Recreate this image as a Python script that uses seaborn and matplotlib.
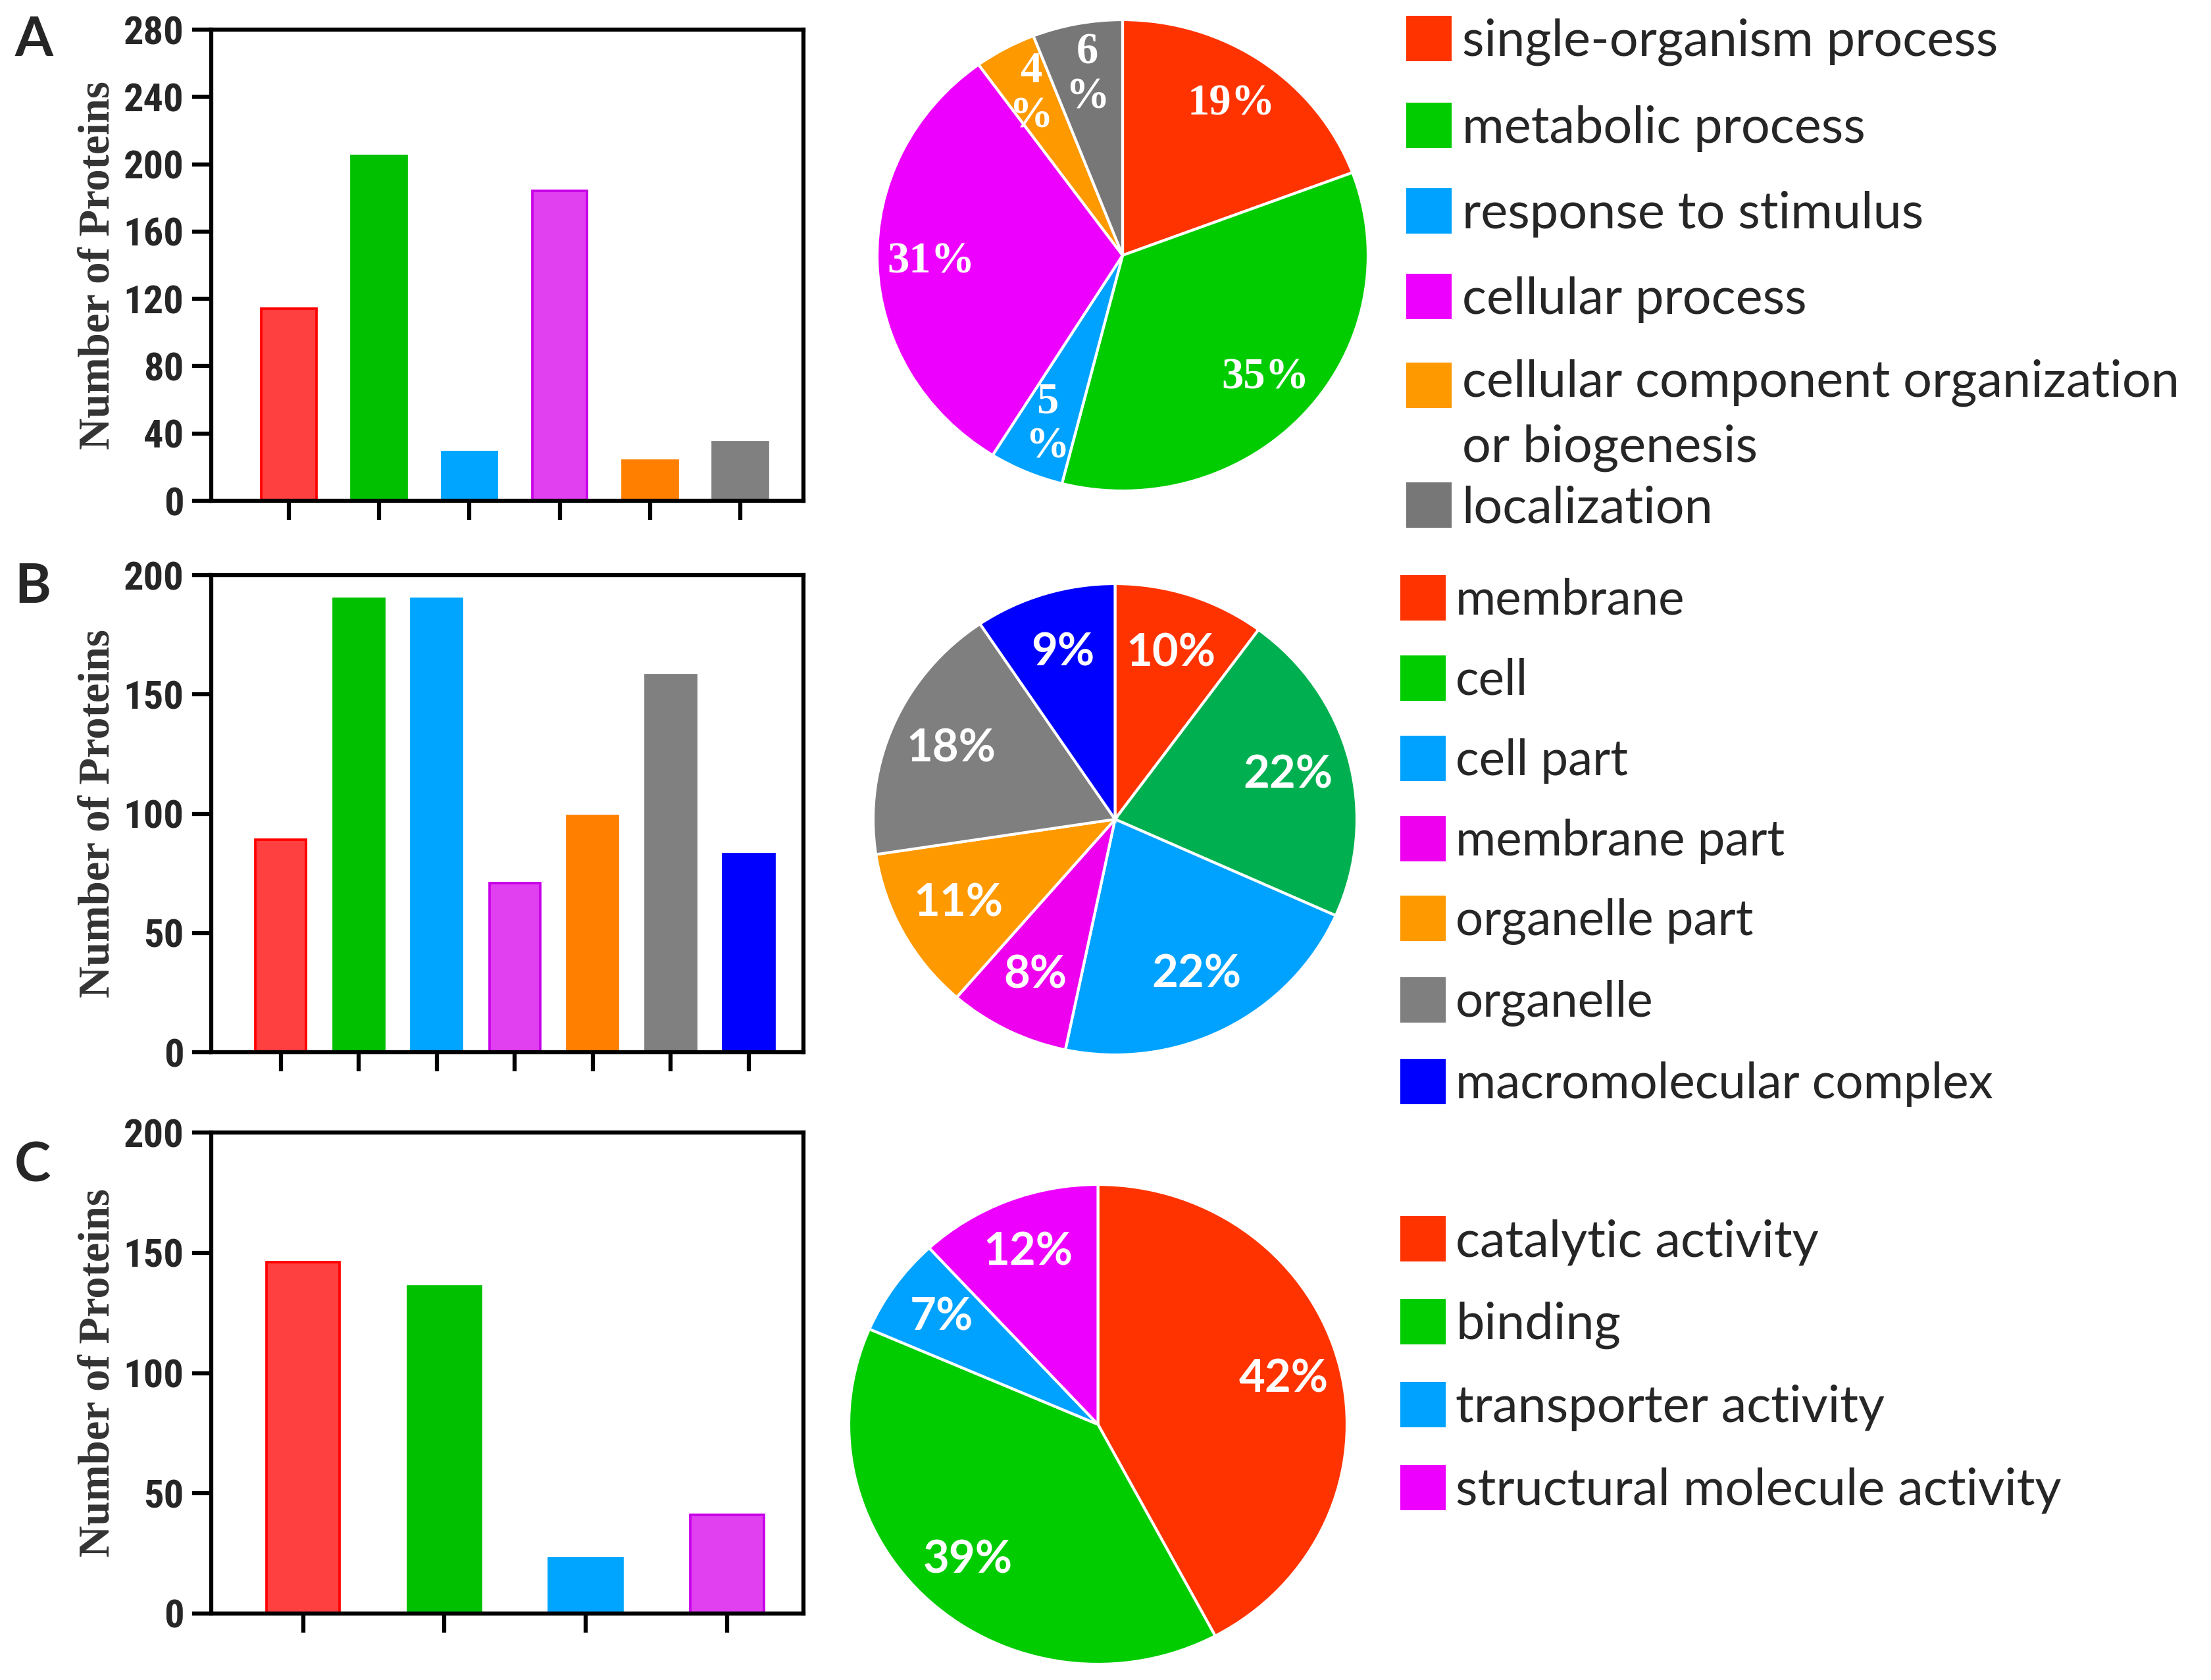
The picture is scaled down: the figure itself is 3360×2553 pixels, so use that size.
import matplotlib
matplotlib.use('Agg')
import matplotlib.pyplot as plt
import seaborn as sns
from matplotlib.patches import Patch, Rectangle
from matplotlib.legend_handler import HandlerPatch

# GO categories and protein counts
bp_terms = ['single-organism process', 'metabolic process', 'response to stimulus',
            'cellular process', 'cellular component organization\nor biogenesis', 'localization']
bp_counts = [114, 205, 29, 184, 24, 35]

cc_terms = ['membrane', 'cell', 'cell part', 'membrane part', 'organelle part',
            'organelle', 'macromolecular complex']
cc_counts = [89, 190, 190, 71, 99, 158, 83]

mf_terms = ['catalytic activity', 'binding', 'transporter activity',
            'structural molecule activity']
mf_counts = [146, 136, 23, 41]

bar_fill = ['#FF4040', '#00C000', '#00A5FF', '#E040F0', '#FF8000', '#808080', '#0000FF']
bar_edge = ['#FF0000', '#00C000', '#00A5FF', '#C800E8', '#FF8000', '#808080', '#0000FF']
pie_bp = ['#FF3300', '#00CC00', '#00A2FF', '#EE00FF', '#FF9900', '#777777']
pie_cc = ['#FF3300', '#00B050', '#00A2FF', '#EE00EE', '#FF9900', '#7F7F7F', '#0000FF']
leg_cc = ['#FF3300', '#00CC00', '#00A2FF', '#EE00EE', '#FF9900', '#7F7F7F', '#0000FF']
pie_mf = ['#FF3300', '#00CC00', '#00A2FF', '#EE00FF']

sns.set_style('ticks')
plt.rcParams['font.family'] = ['Lato', 'DejaVu Sans']

W, H = 3360, 2553
fig = plt.figure(figsize=(W / 300, H / 300), dpi=300)


def px(l, t, r, b):
    return [l / W, 1 - b / H, (r - l) / W, (b - t) / H]


tick_family = ['Roboto Condensed', 'Liberation Sans']


def bar_panel(rect, terms, counts, ymax, ystep, xlim, width):
    ax = fig.add_axes(px(*rect))
    n = len(terms)
    sns.barplot(x=list(range(n)), y=counts, hue=list(range(n)), palette=bar_fill[:n],
                saturation=1, width=width, legend=False, ax=ax)
    for p, ec in zip(ax.patches, bar_edge[:n]):
        p.set_edgecolor(ec)
        p.set_linewidth(0.9)
    ax.set_xlim(*xlim)
    ax.set_ylim(0, ymax)
    ax.set_yticks(range(0, ymax + 1, ystep))
    ax.set_xticks(range(n))
    ax.set_xticklabels([])
    ax.set_xlabel('')
    for s in ax.spines.values():
        s.set_linewidth(1.5)
        s.set_color('black')
    ax.tick_params(axis='both', direction='out', length=7, width=1.5, color='black')
    ax.tick_params(axis='y', pad=3)
    for lab in ax.get_yticklabels():
        lab.set_fontfamily(tick_family)
        lab.set_fontweight('bold')
        lab.set_fontsize(14.5)
    ax.set_ylabel('Number of Proteins', family='Liberation Serif', weight='bold',
                  size=16, color='#333333')
    ax.yaxis.set_label_coords(-0.157, 0.5)
    return ax


def pie_panel(rect, counts, colors, pctdist, split_below, serif):
    ax = fig.add_axes(px(*rect))

    def fmt(p):
        return f'{p:.0f}\n%' if p < split_below else f'{p:.0f}%'

    wedges, _, autotexts = ax.pie(counts, colors=colors, startangle=90, counterclock=False,
                                  autopct=fmt, pctdistance=pctdist,
                                  wedgeprops=dict(edgecolor='white', linewidth=1.0))
    for t in autotexts:
        t.set_color('white')
        t.set_fontweight('bold')
        if serif:
            t.set_fontfamily('Liberation Serif')
            t.set_fontsize(16)
            t.set_linespacing(1.15)
        else:
            t.set_fontsize(16.5)
    ax.set_aspect('auto')
    ax.set_xlim(-1, 1)
    ax.set_ylim(-1, 1)
    ax.axis('off')
    return ax


def legend_panel(anchor, terms, colors, size, pitch, shift_first_line=None):
    # sizes in pixels of the reference: 69 px squares, row pitch in px
    f = size * 300 / 72
    hl = 69 / f
    hh = (69 / f - 0.245) / 0.65
    ls = pitch / f - 0.98
    handles = [Patch(facecolor=c, edgecolor='none') for c in colors]
    hmap = {}
    if shift_first_line is not None:
        idx, shift = shift_first_line

        def up(legend, orig_handle, xdescent, ydescent, width, height, fontsize):
            return Rectangle((-xdescent, -ydescent + shift), width, height)
        hmap[handles[idx]] = HandlerPatch(patch_func=up)
    leg = fig.legend(handles, terms, loc='upper left',
                     bbox_to_anchor=(anchor[0] / W, 1 - anchor[1] / H),
                     bbox_transform=fig.transFigure, frameon=False,
                     fontsize=size, handlelength=hl, handleheight=hh,
                     handletextpad=0.2, labelspacing=ls, borderpad=0,
                     borderaxespad=0, handler_map=hmap)
    return leg


# A: biological process
bar_panel((321, 45, 1221, 761), bp_terms, bp_counts, 280, 40, (-0.86, 5.70), 0.61)
pie_panel((1333, 30, 2079, 746), bp_counts, pie_bp, 0.78, 7, True)
leg_a = legend_panel((2137, 24), bp_terms[:5], pie_bp[:5], 18.6, 131,
                     shift_first_line=(4, 11.5))
leg_a.get_texts()[4].set_linespacing(1.46)
legend_panel((2137, 733), bp_terms[5:], pie_bp[5:], 18.6, 131)

# B: cellular component
bar_panel((321, 874, 1221, 1599), cc_terms, cc_counts, 200, 50, (-0.89, 6.70), 0.65)
pie_panel((1327, 887, 2062, 1603), cc_counts, pie_cc, 0.74, 0, False)
legend_panel((2128, 874), cc_terms, leg_cc, 17.9, 122)

# C: molecular function
bar_panel((321, 1721, 1221, 2452), mf_terms, mf_counts, 200, 50, (-0.65, 3.54), 0.52)
pie_panel((1290, 1800, 2047, 2529), mf_counts, pie_mf, 0.77, 0, False)
legend_panel((2128, 1848), mf_terms, pie_mf, 18.6, 126.4)

for letter, y in [('A', 24), ('B', 855), ('C', 1734)]:
    fig.text(22 / W, 1 - y / H, letter, ha='left', va='top', fontsize=20, fontweight='bold')

fig.savefig('out.png', dpi=300)
